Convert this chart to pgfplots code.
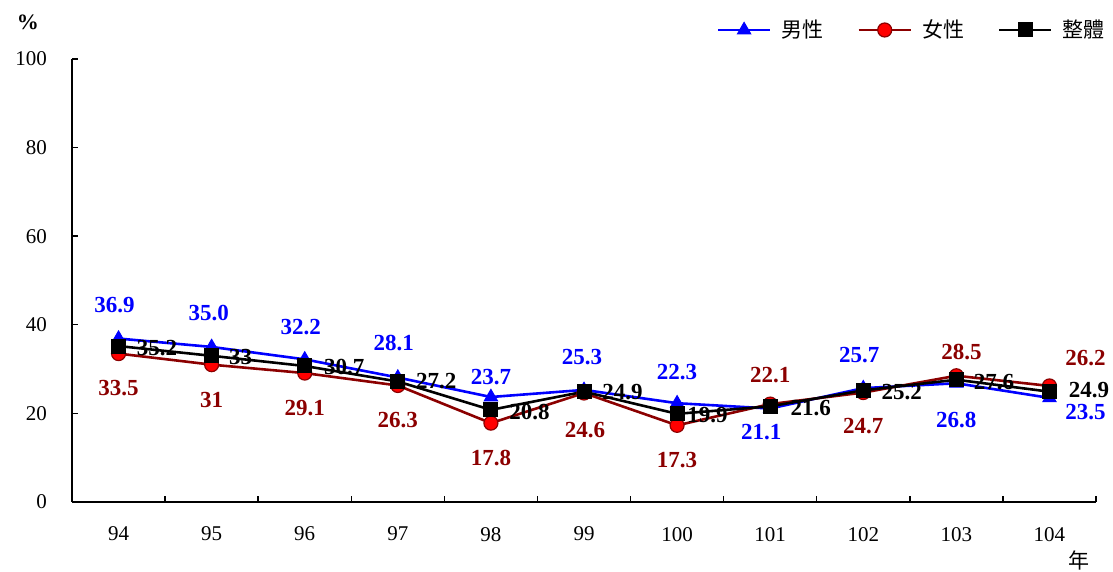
\documentclass[border=0pt]{standalone}
\usepackage{fontspec}
\setmainfont{Liberation Serif}
\newfontfamily\cjk{Noto Sans CJK TC}
\usepackage{pgfplots}
\pgfplotsset{compat=1.18}
\definecolor{mblue}{RGB}{0,0,255}
\definecolor{dred}{RGB}{139,0,0}
\definecolor{fred}{RGB}{255,0,0}
\newcommand{\lf}{\bfseries\fontsize{11.5}{12}\selectfont}
% blue / red centred labels: x, y, text, colour, xshift, yshift
\newcommand{\dl}[6]{\node[inner sep=0pt,font=\lf,text=#4,xshift=#5,yshift=#6] at (axis cs:#1,#2) {#3};}
\newcommand{\bl}[5]{\node[inner sep=0pt,font=\lf,text=black,anchor=west,xshift=#4,yshift=#5] at (axis cs:#1,#2) {#3};}
\begin{document}
\begin{tikzpicture}
\begin{axis}[
  scale only axis,
  width=512pt, height=221.5pt,
  xmin=-0.5, xmax=10.5, ymin=0, ymax=100,
  axis x line=bottom, axis y line=left,
  axis line style={-, line width=1pt},
  xtick={0,...,10},
  xticklabels={94,95,96,97,98,99,100,101,102,103,104},
  major x tick style={draw=none},
  minor xtick={-0.5,0.5,...,10.5},
  minor tick length=3pt,
  minor x tick style={line width=0.7pt, black},
  ytick={0,20,...,100},
  major tick length=3pt,
  ytick style={line width=0.7pt, black},
  tick align=inside,
  tick label style={font=\fontsize{10.5}{12}\selectfont},
  /pgf/number format/assume math mode=true,
  xticklabel style={yshift=-9pt},
  yticklabel style={xshift=-9pt},
  clip=false,
  legend columns=3,
  legend style={draw=none, fill=none, at={(1,1)}, anchor=east, xshift=4.5pt, yshift=14.5pt,
    font=\cjk\fontsize{10.5}{12}\selectfont, inner sep=0pt,
    nodes={inner sep=0pt},
    /tikz/every odd column/.append style={column sep=5pt},
    /tikz/every even column/.append style={column sep=17pt}},
  legend image code/.code={\draw[mark repeat=2,mark phase=2] plot coordinates {(0pt,0pt) (13pt,0pt) (26pt,0pt)};},
]
\addplot[color=mblue, line width=1.3pt, mark=triangle*, mark size=3.8pt, mark options={fill=mblue,draw=mblue,line width=0.5pt}]
  coordinates {(0,36.9) (1,35.0) (2,32.2) (3,28.1) (4,23.7) (5,25.3) (6,22.3) (7,21.1) (8,25.7) (9,26.8) (10,23.5)};
\addlegendentry{男性}
\addplot[color=dred, line width=1.3pt, mark=*, mark size=3.5pt, mark options={fill=fred,draw=dred,line width=0.6pt}]
  coordinates {(0,33.5) (1,31) (2,29.1) (3,26.3) (4,17.8) (5,24.6) (6,17.3) (7,22.1) (8,24.7) (9,28.5) (10,26.2)};
\addlegendentry{女性}
\addplot[color=black, line width=1.3pt, mark=square*, mark size=3.5pt, mark options={fill=black,draw=black,line width=0.5pt}]
  coordinates {(0,35.2) (1,33) (2,30.7) (3,27.2) (4,20.8) (5,24.9) (6,19.9) (7,21.6) (8,25.2) (9,27.6) (10,24.9)};
\addlegendentry{整體}
% blue labels
\dl{0}{36.9}{36.9}{mblue}{-2pt}{16.5pt}
\dl{1}{35.0}{35.0}{mblue}{-1.5pt}{17pt}
\dl{2}{32.2}{32.2}{mblue}{-2pt}{16pt}
\dl{3}{28.1}{28.1}{mblue}{-2pt}{17pt}
\dl{4}{23.7}{23.7}{mblue}{0pt}{10pt}
\dl{5}{25.3}{25.3}{mblue}{-1pt}{16.5pt}
\dl{6}{22.3}{22.3}{mblue}{0pt}{15.5pt}
\dl{7}{21.1}{21.1}{mblue}{-4.5pt}{-12pt}
\dl{8}{25.7}{25.7}{mblue}{-2pt}{16.5pt}
\dl{9}{26.8}{26.8}{mblue}{0pt}{-18.5pt}
\dl{10}{23.5}{23.5}{mblue}{18pt}{-7pt}
% red labels
\dl{0}{33.5}{33.5}{dred}{0pt}{-17pt}
\dl{1}{31}{31}{dred}{0pt}{-17.5pt}
\dl{2}{29.1}{29.1}{dred}{0pt}{-17.5pt}
\dl{3}{26.3}{26.3}{dred}{0pt}{-17.5pt}
\dl{4}{17.8}{17.8}{dred}{0pt}{-17.5pt}
\dl{5}{24.6}{24.6}{dred}{0.5pt}{-18.5pt}
\dl{6}{17.3}{17.3}{dred}{0pt}{-17.5pt}
\dl{7}{22.1}{22.1}{dred}{0pt}{14.5pt}
\dl{8}{24.7}{24.7}{dred}{0pt}{-16.5pt}
\dl{9}{28.5}{28.5}{dred}{2.5pt}{12pt}
\dl{10}{26.2}{26.2}{dred}{18pt}{14pt}
% black labels
\bl{0}{35.2}{35.2}{9pt}{-1pt}
\bl{1}{33}{33}{8.5pt}{-0.5pt}
\bl{2}{30.7}{30.7}{9.5pt}{-0.5pt}
\bl{3}{27.2}{27.2}{9pt}{0pt}
\bl{4}{20.8}{20.8}{9pt}{-1pt}
\bl{5}{24.9}{24.9}{9pt}{0pt}
\bl{6}{19.9}{19.9}{5pt}{-0.5pt}
\bl{7}{21.6}{21.6}{10pt}{-1pt}
\bl{8}{25.2}{25.2}{9pt}{-1pt}
\bl{9}{27.6}{27.6}{8.5pt}{-1pt}
\bl{10}{24.9}{24.9}{9.5pt}{1pt}
\end{axis}
\node[font=\bfseries\fontsize{11}{12}\selectfont, inner sep=0pt] at (-22pt,240pt) {\%};
\node[font=\cjk\fontsize{10.5}{12}\selectfont, inner sep=0pt] at (503.5pt,-29pt) {年};
\pgfresetboundingbox
\path (-36pt,-35pt) rectangle (520.5pt,251pt);
\end{tikzpicture}
\end{document}
